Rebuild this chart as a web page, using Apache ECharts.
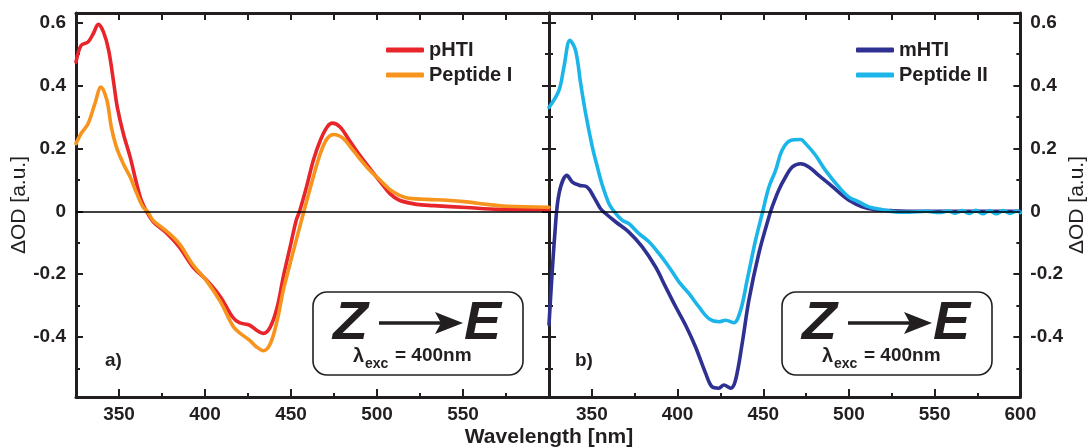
<!DOCTYPE html>
<html>
<head>
<meta charset="utf-8">
<script src="https://cdn.jsdelivr.net/npm/echarts@6/dist/echarts.min.js"></script>
<style>
  html, body { margin: 0; padding: 0; background: #fff; }
  #chart { width: 1089px; height: 447px; }
</style>
</head>
<body>
<div id="chart"></div>
<script>
// Transient absorption difference spectra (Z -> E, excitation at 400 nm)

// panel a) pHTI
const pHTI_nm = [325, 328, 332, 335, 338, 341, 344, 347, 349, 352.5, 356.5, 360, 363, 366, 370, 378, 385, 393, 401, 409, 416, 420, 426, 430, 434, 438, 442, 445.5, 449.5, 453, 455, 459, 463, 467, 471, 474, 478.5, 484, 490, 496, 502, 507.5, 513, 523, 533, 552, 571, 600];
const pHTI_dOD = [0.474, 0.527, 0.538, 0.564, 0.594, 0.569, 0.511, 0.405, 0.331, 0.247, 0.172, 0.093, 0.035, 0.0, -0.034, -0.071, -0.113, -0.177, -0.219, -0.272, -0.336, -0.354, -0.362, -0.378, -0.388, -0.367, -0.304, -0.209, -0.113, -0.029, 0.0, 0.077, 0.162, 0.225, 0.268, 0.280, 0.268, 0.225, 0.178, 0.135, 0.093, 0.056, 0.035, 0.022, 0.018, 0.012, 0.006, 0.005];

// panel a) Peptide I
const pepI_nm = [325, 328, 332, 336, 339.5, 343, 345.5, 348.5, 352.5, 356.5, 360, 364, 366.5, 370, 378, 385, 393, 401, 409, 416.5, 420.5, 426, 430, 434, 438, 442, 445.5, 449.5, 453.5, 457.5, 461, 467, 471, 475, 480.5, 486, 494, 502, 509.5, 517, 529, 540.5, 552, 564, 575.5, 600];
const pepI_dOD = [0.215, 0.247, 0.278, 0.342, 0.395, 0.352, 0.268, 0.204, 0.151, 0.109, 0.061, 0.013, 0.0, -0.03, -0.065, -0.103, -0.17, -0.222, -0.288, -0.367, -0.388, -0.41, -0.431, -0.443, -0.42, -0.346, -0.251, -0.166, -0.082, 0.0, 0.07, 0.183, 0.231, 0.244, 0.231, 0.194, 0.141, 0.098, 0.061, 0.043, 0.038, 0.035, 0.03, 0.022, 0.016, 0.013];

// panel b) mHTI
const mHTI_nm = [325, 328.5, 331, 335.5, 338.6, 342.5, 347.3, 351.2, 355, 358, 364, 371.6, 379.4, 387.2, 393, 399, 404.7, 410.5, 416.4, 420.2, 424, 427, 431, 433.8, 437.7, 441.6, 447.4, 453.3, 455.2, 459, 463, 467, 471.8, 476.6, 482.4, 488.3, 494, 500, 507.7, 515.5, 525, 540, 560, 580, 600];
const mHTI_dOD = [-0.36, -0.065, 0.06, 0.114, 0.093, 0.083, 0.077, 0.045, 0.009, -0.007, -0.034, -0.066, -0.113, -0.177, -0.24, -0.304, -0.362, -0.431, -0.515, -0.558, -0.562, -0.552, -0.562, -0.537, -0.42, -0.283, -0.134, -0.018, 0.014, 0.067, 0.109, 0.141, 0.151, 0.141, 0.114, 0.088, 0.061, 0.035, 0.014, 0.005, 0.002, 0.0, 0.0, 0.0, 0.0];

// panel b) Peptide II
const pepII_nm = [325, 330.8, 333.7, 337.2, 340.5, 343.5, 346.4, 350.3, 353.2, 356.1, 360, 362.9, 367.8, 371.6, 377.5, 383.3, 389.1, 395, 400.8, 406.6, 412.5, 418.3, 424.1, 428, 432.9, 436.8, 440.6, 445.5, 449.4, 453.3, 457.2, 461, 465.9, 471.8, 474.7, 480.5, 486.3, 494.1, 500, 505.8, 511.6, 519.4, 527.2, 535, 545, 553, 558, 562, 566, 570, 574, 578, 582, 586, 590, 594, 598, 600];
const pepII_dOD = [0.33, 0.384, 0.458, 0.543, 0.511, 0.405, 0.31, 0.204, 0.141, 0.083, 0.024, 0.0, -0.029, -0.039, -0.071, -0.097, -0.134, -0.177, -0.224, -0.261, -0.304, -0.341, -0.351, -0.346, -0.354, -0.314, -0.219, -0.092, -0.007, 0.077, 0.13, 0.194, 0.225, 0.228, 0.215, 0.178, 0.13, 0.077, 0.045, 0.03, 0.014, 0.005, -0.002, -0.003, 0.0, -0.004, 0.001, -0.006, 0.002, -0.007, 0.003, -0.008, 0.002, -0.008, 0.002, -0.007, 0.001, -0.004];

// axis ticks and labels
const xMajor = [350, 400, 450, 500, 550];
const xMinor = [375, 425, 475, 525, 575];
const xLabelsA = [350, 400, 450, 500, 550];
const xLabelsB = [350, 400, 450, 500, 550, 600];
const yMajor = [-0.4, -0.2, 0, 0.2, 0.4, 0.6];
const yMinor = [-0.5, -0.3, -0.1, 0.1, 0.3, 0.5];

const INK = '#231f20';
const FONT = '"Liberation Sans", Arial, sans-serif';
const zip = (xs, ys) => xs.map((x, i) => [x, ys[i]]);

function xAxesFor(grid, labels) {
  const base = { type: 'value', gridIndex: grid, min: 325, max: 600, splitLine: { show: false } };
  return [
    Object.assign({}, base, {
      position: 'bottom',
      axisLine: { show: true, onZero: false, lineStyle: { color: INK, width: 3 } },
      axisTick: { show: true, inside: true, length: 8, customValues: xMajor, lineStyle: { color: INK, width: 2 } },
      axisLabel: { show: true, customValues: labels, margin: 8, color: INK, fontFamily: FONT, fontWeight: 'bold', fontSize: 19 }
    }),
    Object.assign({}, base, {
      position: 'bottom',
      axisLine: { show: false, onZero: false },
      axisTick: { show: true, inside: true, length: 4, customValues: xMinor, lineStyle: { color: INK, width: 2 } },
      axisLabel: { show: false }
    }),
    Object.assign({}, base, {
      position: 'top',
      axisLine: { show: true, onZero: false, lineStyle: { color: INK, width: 3 } },
      axisTick: { show: true, inside: true, length: 7, customValues: xMajor.concat(xMinor), lineStyle: { color: INK, width: 2 } },
      axisLabel: { show: false }
    })
  ];
}

function yAxesFor(grid, labelSide, nameSide) {
  const base = { type: 'value', gridIndex: grid, min: -0.59, max: 0.63, splitLine: { show: false } };
  const axes = [];
  ['left', 'right'].forEach(side => {
    const main = Object.assign({}, base, {
      position: side,
      axisLine: { show: true, onZero: false, lineStyle: { color: INK, width: 3 } },
      axisTick: { show: true, inside: true, length: 7, customValues: yMajor, lineStyle: { color: INK, width: 2 } },
      axisLabel: { show: side === labelSide, customValues: yMajor, margin: 10, color: INK, fontFamily: FONT, fontWeight: 'bold', fontSize: 19 }
    });
    if (side === nameSide) {
      Object.assign(main, {
        name: 'ΔOD [a.u.]', nameLocation: 'middle', nameRotate: 90, nameGap: 44,
        nameTextStyle: { color: INK, fontFamily: FONT, fontSize: 21 }
      });
    }
    axes.push(main);
    axes.push(Object.assign({}, base, {
      position: side,
      axisLine: { show: false, onZero: false },
      axisTick: { show: true, inside: true, length: 4, customValues: yMinor, lineStyle: { color: INK, width: 2 } },
      axisLabel: { show: false }
    }));
  });
  return axes;
}

const zeroLine = {
  silent: true, symbol: 'none', label: { show: false },
  lineStyle: { color: '#000', width: 1.5, type: 'solid' },
  data: [{ yAxis: 0 }]
};

function spectrum(name, data, color, xi, yi, withZero) {
  const s = {
    name: name, type: 'line', data: data, xAxisIndex: xi, yAxisIndex: yi,
    symbol: 'none', showSymbol: false, smooth: 0.35,
    lineStyle: { color: color, width: 3.6, cap: 'round', join: 'round' },
    itemStyle: { color: color }, z: 3
  };
  if (withZero) s.markLine = zeroLine;
  return s;
}

const legendText = { color: INK, fontFamily: FONT, fontWeight: 'bold', fontSize: 20, lineHeight: 20 };
const legendBase = {
  orient: 'vertical', top: 40, icon: 'roundRect', padding: 0,
  itemWidth: 38, itemHeight: 5, itemGap: 5, itemTextGap: 10, textStyle: legendText
};

// "Z -> E" annotation box with the excitation wavelength
function reactionBox(x0) {
  return [
    { type: 'rect', shape: { x: x0, y: 292, width: 210, height: 83, r: 14 },
      style: { fill: 'rgba(255,255,255,0)', stroke: INK, lineWidth: 1.6 } },
    { type: 'text', x: x0 + 20, y: 324, scaleX: 1.08,
      style: { text: 'Z', fill: INK, font: 'italic bold 53px ' + FONT, verticalAlign: 'middle', align: 'left' } },
    { type: 'line', shape: { x1: x0 + 66, y1: 323, x2: x0 + 130, y2: 323 },
      style: { stroke: INK, lineWidth: 3.5 } },
    { type: 'polygon', shape: { points: [[x0 + 122, 312], [x0 + 150, 323], [x0 + 122, 334], [x0 + 128, 323]] },
      style: { fill: INK } },
    { type: 'text', x: x0 + 151, y: 324, scaleX: 1.05,
      style: { text: 'E', fill: INK, font: 'italic bold 53px ' + FONT, verticalAlign: 'middle', align: 'left' } },
    { type: 'text', x: x0 + 40, y: 356,
      style: { text: 'λ', fill: INK, font: 'bold 20px ' + FONT, verticalAlign: 'middle', align: 'left' } },
    { type: 'text', x: x0 + 52, y: 364,
      style: { text: 'exc', fill: INK, font: 'bold 14px ' + FONT, verticalAlign: 'middle', align: 'left' } },
    { type: 'text', x: x0 + 82, y: 356,
      style: { text: '= 400nm', fill: INK, font: 'bold 19px ' + FONT, verticalAlign: 'middle', align: 'left' } }
  ];
}

const chart = echarts.init(document.getElementById('chart'), null, { renderer: 'canvas' });
chart.setOption({
  animation: false,
  backgroundColor: '#fff',
  grid: [
    { left: 76, top: 13, width: 473, height: 384 },
    { left: 549, top: 13, width: 473, height: 384 }
  ],
  xAxis: xAxesFor(0, xLabelsA).concat(xAxesFor(1, xLabelsB)),
  yAxis: yAxesFor(0, 'left', 'left').concat(yAxesFor(1, 'right', 'right')),
  legend: [
    Object.assign({ data: ['pHTI', 'Peptide I'], left: 386 }, legendBase),
    Object.assign({ data: ['mHTI', 'Peptide II'], left: 856 }, legendBase)
  ],
  series: [
    spectrum('pHTI', zip(pHTI_nm, pHTI_dOD), '#e8252b', 0, 0, true),
    spectrum('Peptide I', zip(pepI_nm, pepI_dOD), '#f7941d', 0, 0, false),
    spectrum('mHTI', zip(mHTI_nm, mHTI_dOD), '#2e3192', 3, 4, true),
    spectrum('Peptide II', zip(pepII_nm, pepII_dOD), '#1cb5ea', 3, 4, false)
  ],
  graphic: [
    { type: 'text', x: 549, y: 437,
      style: { text: 'Wavelength [nm]', fill: INK, font: 'bold 21px ' + FONT, align: 'center', verticalAlign: 'middle' } },
    { type: 'text', x: 105, y: 361,
      style: { text: 'a)', fill: INK, font: 'bold 19px ' + FONT, align: 'left', verticalAlign: 'middle' } },
    { type: 'text', x: 575, y: 361,
      style: { text: 'b)', fill: INK, font: 'bold 19px ' + FONT, align: 'left', verticalAlign: 'middle' } }
  ].concat(reactionBox(313), reactionBox(782))
});
</script>
</body>
</html>
